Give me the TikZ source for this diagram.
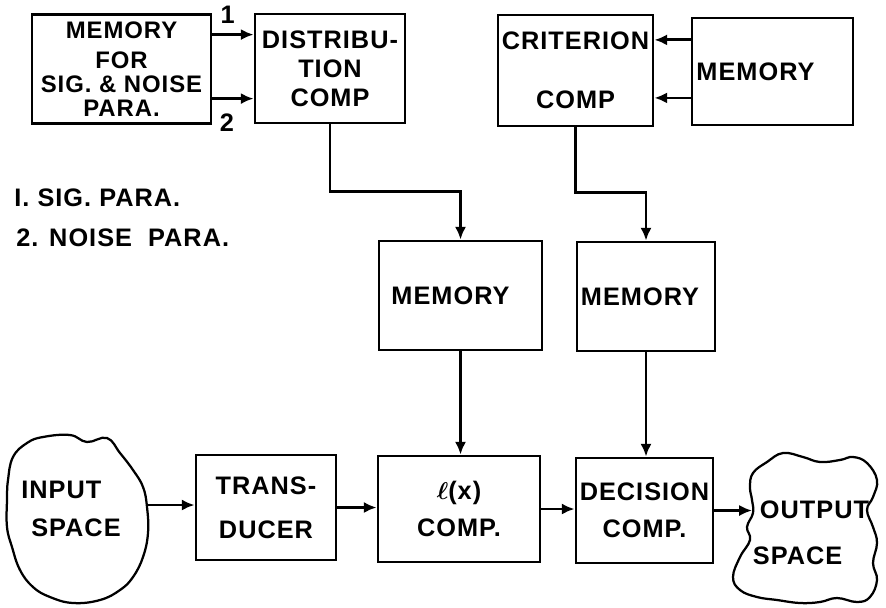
\documentclass[tikz,border=0pt]{standalone}
\usepackage{amsmath}
\usepackage{fontspec}
\setmainfont{Liberation Sans}[LetterSpace=4]
\usetikzlibrary{arrows.meta}

\begin{document}
\begin{tikzpicture}[x=0.025cm, y=-0.025cm, line width=2pt,
	blk/.style={shape=rectangle, draw=black, align=center, inner sep=0pt, font=\fontsize{18}{22}\selectfont\bfseries},
	lbl/.style={inner sep=0pt, font=\fontsize{18}{22}\selectfont\bfseries},
	arr/.style={-{Latex[length=0.32cm,width=0.28cm]}}]
	
	\useasboundingbox (0,0) rectangle (886,607);
	
	\node[blk, minimum width=4.475cm, minimum height=2.725cm, font=\fontsize{17}{17}\selectfont\bfseries] (memsig) at (121.5, 69) {MEMORY\\[4pt]FOR\\SIG. \& NOISE\\PARA.};
	\node[blk, minimum width=3.75cm,  minimum height=2.725cm] (dist)  at (330, 68.5)   {DISTRIBU-\\[-1.5pt]TION\\[-1.5pt]COMP};
	\node[blk, minimum width=3.875cm, minimum height=2.775cm] (crit)  at (575.5, 70.5) {CRITERION\\[20pt]COMP};
	\node[blk, minimum width=4.025cm, minimum height=2.675cm] (memR)  at (772.5, 71.5) {MEMORY\hspace*{0.85cm}};
	\node[blk, minimum width=4.075cm, minimum height=2.725cm] (mem1)  at (460.5, 295.5) {MEMORY\hspace*{0.5cm}};
	\node[blk, minimum width=3.45cm,  minimum height=2.725cm] (mem2)  at (646, 296.5)  {MEMORY\hspace*{0.3cm}};
	\node[blk, minimum width=3.5cm,   minimum height=2.625cm] (trans) at (266, 507.5)  {TRANS-\\[9pt]DUCER};
	\node[blk, minimum width=4.05cm,  minimum height=2.65cm]  (lx)    at (459, 509)    {$\boldsymbol{\ell}$(x)\\[4pt]COMP.};
	\node[blk, minimum width=3.425cm, minimum height=2.625cm] (dec)   at (644.5, 510.5) {DECISION\\[4pt]COMP.};
	
	% input and output spaces
	\draw[line width=1.6pt] plot[smooth cycle, tension=0.7] coordinates {(43,437) (70,435) (87,442) (107,438) (120,453) (133,470) (143,487) (147,507) (148,533) (143,557) (133,577) (120,590) (100,600) (73,603) (50,597) (33,587) (20,570) (12,547) (7,527) (7,500) (8,480) (13,457) (27,443)};
	\draw[line width=1.6pt] plot[smooth cycle, tension=0.7] coordinates {(753,473) (767,462) (783,453) (803,457) (820,462) (840,460) (853,457) (867,463) (877,480) (873,497) (867,510) (873,527) (877,543) (873,563) (877,580) (870,597) (857,602) (837,598) (820,602) (800,603) (777,600) (757,597) (740,590) (733,577) (740,557) (750,540) (747,527) (753,513) (752,500) (750,487)};
	\node[lbl, align=left] (inp)  at (71, 509)  {INPUT\\[5pt]\hspace*{0.25cm}SPACE};
	\node[lbl, align=left] (outp) at (811, 533) {\hspace*{0.175cm}OUTPUT\\[11pt]SPACE};
	\coordinate (inpe) at (147,505);
	\coordinate (outw) at (752,510);
	
	% parameters into distribution comp
	\coordinate (s1) at ([yshift=0.86cm]memsig.east);
	\coordinate (s2) at ([yshift=-0.74cm]memsig.east);
	\draw[arr] (s1) -- (s1 -| dist.west);
	\draw[arr] (s2) -- (s2 -| dist.west);
	\node[lbl, anchor=south west, xshift=0.17cm, yshift=0.25cm] (one) at (s1) {1};
	\node[lbl, anchor=north west, xshift=0.15cm, yshift=-0.35cm] (two) at (s2) {2};
	
	% memory into criterion comp
	\coordinate (r1) at ([yshift=0.79cm]memR.west);
	\coordinate (r2) at ([yshift=-0.66cm]memR.west);
	\draw[arr] (r1) -- (r1 -| crit.east);
	\draw[arr] (r2) -- (r2 -| crit.east);
	
	\draw[arr] (dist.south) -- ++(0,-1.675cm) -| (mem1.north);
	\draw[arr] (crit.south) -- ++(0,-1.625cm) -| (mem2.north);
	\draw[arr] (mem1.south) -- (mem1.south |- lx.north);
	\draw[arr] (mem2.south) -- (mem2.south |- dec.north);
	
	\draw[arr] (inpe) -- (inpe -| trans.west);
	\draw[arr] (trans.east) -- (trans.east -| lx.west);
	\draw[arr] (lx.east) -- (lx.east -| dec.west);
	\draw[arr] (dec.east) -- (dec.east -| outw);
	
	\node[lbl, anchor=west] (leg1) at (13,198) {I. SIG. PARA.};
	\node[lbl, anchor=west] (leg2) at (15,238) {2. NOISE\ \ PARA.};
	
\end{tikzpicture}
\end{document}
